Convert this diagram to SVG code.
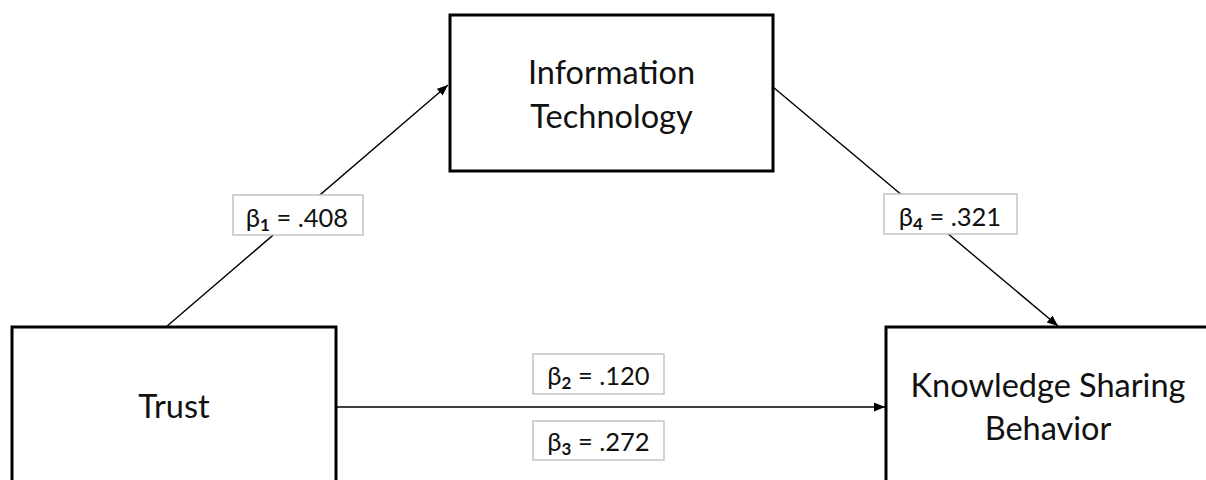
<svg xmlns="http://www.w3.org/2000/svg" width="1206" height="480" viewBox="0 0 1206 480">
<style>
.box{fill:#fff;stroke:#000;stroke-width:3}
.lab{fill:#fff;stroke:#c4c4c4;stroke-width:1.5}
.t{font-family:Lato,"Open Sans",sans-serif;font-size:32.5px;fill:#111;text-anchor:middle}
.l{font-family:Lato,"Open Sans",sans-serif;font-size:25.5px;fill:#111;text-anchor:middle}
.sub{font-size:17px;font-weight:bold}
.c{stroke:#000;stroke-width:1.4;fill:none;marker-end:url(#ah)}
</style>
<defs>
<marker id="ah" markerUnits="userSpaceOnUse" markerWidth="12" markerHeight="10" refX="11" refY="4.5" orient="auto">
<path d="M0,0 L11,4.5 L0,9 z" fill="#000"/>
</marker>
</defs>
<rect width="1206" height="480" fill="#fff"/>
<g id="connectors">
<line class="c" x1="166" y1="327" x2="448" y2="85"/>
<line class="c" x1="773" y1="87" x2="1058" y2="326"/>
<line class="c" x1="336" y1="407" x2="885" y2="407"/>
</g>
<g id="node-it">
<rect class="box" x="450" y="15" width="323" height="156"/>
<text class="t" x="611.5" y="84">Information</text>
<text class="t" x="611.5" y="128">Technology</text>
</g>
<g id="node-trust">
<rect class="box" x="12" y="327" width="324" height="200"/>
<text class="t" x="174" y="418">Trust</text>
</g>
<g id="node-ksb">
<rect class="box" x="886" y="327" width="400" height="200"/>
<text class="t" x="1048" y="397">Knowledge Sharing</text>
<text class="t" x="1048" y="440">Behavior</text>
</g>
<g id="label-b1">
<rect class="lab" x="233" y="195" width="130" height="40"/>
<text class="l" x="297" y="227">β<tspan class="sub" dy="4">1</tspan><tspan dy="-4"> = .408</tspan></text>
</g>
<g id="label-b4">
<rect class="lab" x="884" y="194" width="133" height="40"/>
<text class="l" x="950" y="226">β<tspan class="sub" dy="4">4</tspan><tspan dy="-4"> = .321</tspan></text>
</g>
<g id="label-b2">
<rect class="lab" x="533" y="354" width="131" height="40"/>
<text class="l" x="598.5" y="385">β<tspan class="sub" dy="4">2</tspan><tspan dy="-4"> = .120</tspan></text>
</g>
<g id="label-b3">
<rect class="lab" x="533" y="421" width="131" height="39"/>
<text class="l" x="598.5" y="451">β<tspan class="sub" dy="4">3</tspan><tspan dy="-4"> = .272</tspan></text>
</g>
</svg>
